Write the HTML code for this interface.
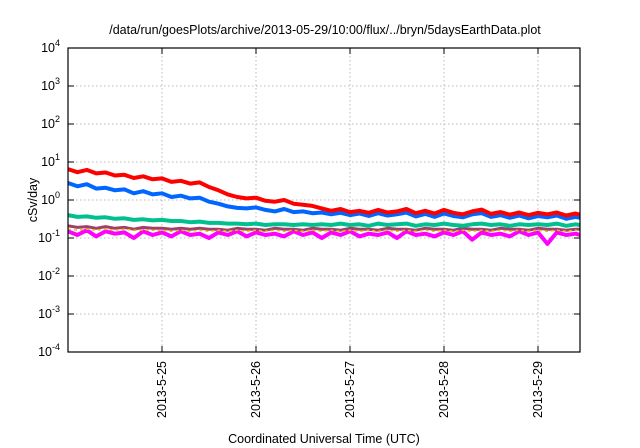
<!DOCTYPE html>
<html><head><meta charset="utf-8"><style>
body{margin:0;background:#fff;}
svg{display:block;font-family:"Liberation Sans",sans-serif;}
</style></head><body>
<svg id="chart" width="640" height="448" viewBox="0 0 640 448">
<rect width="640" height="448" fill="#fff"/>
<text x="325" y="34" font-size="12.5" text-anchor="middle" fill="#000">/data/run/goesPlots/archive/2013-05-29/10:00/flux/../bryn/5daysEarthData.plot</text>
<text transform="translate(37,200) rotate(-90)" font-size="12.5" text-anchor="middle">cSv/day</text>
<text x="324" y="443" font-size="12.5" text-anchor="middle">Coordinated Universal Time (UTC)</text>
<g id="grid"></g><g id="series"></g><g id="axes"></g>
</svg>
<script>
const yExps=[-4,-3,-2,-1,0,1,2,3,4];
const xTickDays=[25,26,27,28,29];
const xTickLabels=["2013-5-25","2013-5-26","2013-5-27","2013-5-28","2013-5-29"];
const t0=24.0, dt=0.1;
const red=[6.5,5.4,6.2,5.0,5.3,4.4,4.6,3.8,4.2,3.5,3.7,3.0,3.2,2.7,2.9,2.2,1.8,1.4,1.2,1.1,1.15,0.95,0.9,1.0,0.8,0.75,0.7,0.6,0.52,0.58,0.48,0.52,0.46,0.55,0.47,0.5,0.58,0.45,0.52,0.44,0.55,0.46,0.42,0.5,0.56,0.43,0.48,0.41,0.47,0.4,0.46,0.42,0.47,0.39,0.44,0.41];
const blue=[2.8,2.3,2.6,2.0,2.1,1.8,1.9,1.5,1.7,1.4,1.5,1.2,1.3,1.1,1.15,0.9,0.8,0.68,0.62,0.6,0.64,0.55,0.5,0.58,0.48,0.5,0.45,0.47,0.42,0.46,0.4,0.44,0.38,0.45,0.39,0.42,0.47,0.37,0.43,0.36,0.44,0.38,0.35,0.42,0.45,0.36,0.4,0.34,0.39,0.33,0.38,0.35,0.39,0.32,0.36,0.34];
const teal=[0.4,0.36,0.37,0.34,0.35,0.32,0.33,0.3,0.31,0.29,0.3,0.28,0.28,0.26,0.27,0.25,0.25,0.24,0.24,0.23,0.24,0.22,0.23,0.23,0.22,0.23,0.22,0.23,0.22,0.24,0.22,0.23,0.21,0.24,0.22,0.23,0.24,0.21,0.23,0.22,0.24,0.22,0.21,0.23,0.24,0.22,0.23,0.21,0.23,0.22,0.23,0.22,0.24,0.21,0.23,0.22];
const purple=[0.21,0.19,0.2,0.18,0.2,0.18,0.19,0.17,0.19,0.18,0.18,0.17,0.18,0.17,0.18,0.17,0.17,0.16,0.18,0.17,0.17,0.16,0.18,0.17,0.17,0.16,0.18,0.17,0.17,0.16,0.18,0.17,0.17,0.16,0.18,0.17,0.17,0.16,0.18,0.17,0.17,0.16,0.18,0.17,0.17,0.16,0.18,0.17,0.17,0.16,0.18,0.17,0.17,0.16,0.17,0.17];
const yellow=[0.17,0.16,0.17,0.16,0.17,0.16,0.17,0.16,0.16,0.16,0.16,0.15,0.16,0.15,0.16,0.15,0.16,0.15,0.16,0.15,0.16,0.15,0.16,0.15,0.16,0.15,0.16,0.15,0.16,0.15,0.16,0.15,0.16,0.15,0.16,0.15,0.16,0.15,0.16,0.15,0.16,0.15,0.16,0.15,0.16,0.15,0.16,0.15,0.16,0.15,0.16,0.15,0.16,0.15,0.16,0.15];
const magenta=[0.15,0.12,0.16,0.11,0.15,0.13,0.14,0.1,0.15,0.12,0.14,0.11,0.15,0.12,0.13,0.1,0.14,0.12,0.15,0.11,0.14,0.12,0.13,0.11,0.15,0.12,0.14,0.1,0.14,0.12,0.15,0.11,0.13,0.12,0.14,0.1,0.15,0.12,0.13,0.11,0.14,0.12,0.15,0.09,0.14,0.12,0.13,0.11,0.15,0.12,0.14,0.07,0.14,0.12,0.13,0.12];
const L=68,R=580,T=48,B=352;
const xScale=d=>L+(d-24.0)*94;
const yScale=v=>200-Math.log10(v)*38;
const ns="http://www.w3.org/2000/svg";
const grid=document.getElementById('grid'),axes=document.getElementById('axes'),ser=document.getElementById('series');
function mk(tag,attrs,parent){const e=document.createElementNS(ns,tag);for(const k in attrs)e.setAttribute(k,attrs[k]);parent.appendChild(e);return e;}
yExps.forEach(e=>{const y=200-e*38;
 if(e>-4&&e<4){const g=mk('line',{x1:L,x2:R,y1:y,y2:y,stroke:'#bbb','stroke-dasharray':'1.5,2.5'},grid);
 
 }
 const t=mk('text',{x:L-8,y:y+4,'font-size':'12.5','text-anchor':'end'},axes);
 
 
 t.textContent='10';const s=mk('tspan',{dy:-6,'font-size':'9'},t);s.textContent=String(e);
 mk('line',{x1:L,x2:L+6,y1:y,y2:y,stroke:'#000'},axes);mk('line',{x1:R,x2:R-6,y1:y,y2:y,stroke:'#000'},axes);
});
xTickDays.forEach((d,i)=>{const x=xScale(d);
 const g=mk('line',{x1:x,x2:x,y1:T,y2:B,stroke:'#bbb','stroke-dasharray':'1.5,2.5'},grid);
 
 
 mk('line',{x1:x,x2:x,y1:B,y2:B-6,stroke:'#000'},axes);mk('line',{x1:x,x2:x,y1:T,y2:T+6,stroke:'#000'},axes);
 const t=mk('text',{transform:`translate(${x+4},361) rotate(-90)`,'font-size':'12.5','text-anchor':'end'},axes);
 
 
 t.textContent=xTickLabels[i];
});
const fr=mk('rect',{x:L,y:T,width:R-L,height:B-T,fill:'none',stroke:'#000','stroke-width':1.2},axes);


function line(arr,color,name,w,dash){const pts=arr.map((v,i)=>Math.min(R,xScale(t0+i*dt)).toFixed(1)+','+yScale(v).toFixed(1)).join(' ');
 const p=mk('polyline',{points:pts,fill:'none',stroke:color,'stroke-width':w,'stroke-linejoin':'round'},ser);
 if(dash)p.setAttribute('stroke-dasharray',dash);
 
 }
line(magenta,'#ff00ff','series-magenta',4);
line(purple,'#a0406a','series-purple',3);
line(yellow,'#e0c000','series-yellow',1.5,'3,3');
line(teal,'#00c090','series-teal',4);
line(blue,'#0066ff','series-blue',4);
line(red,'#ff0000','series-red',4);
</script>
</body></html>
